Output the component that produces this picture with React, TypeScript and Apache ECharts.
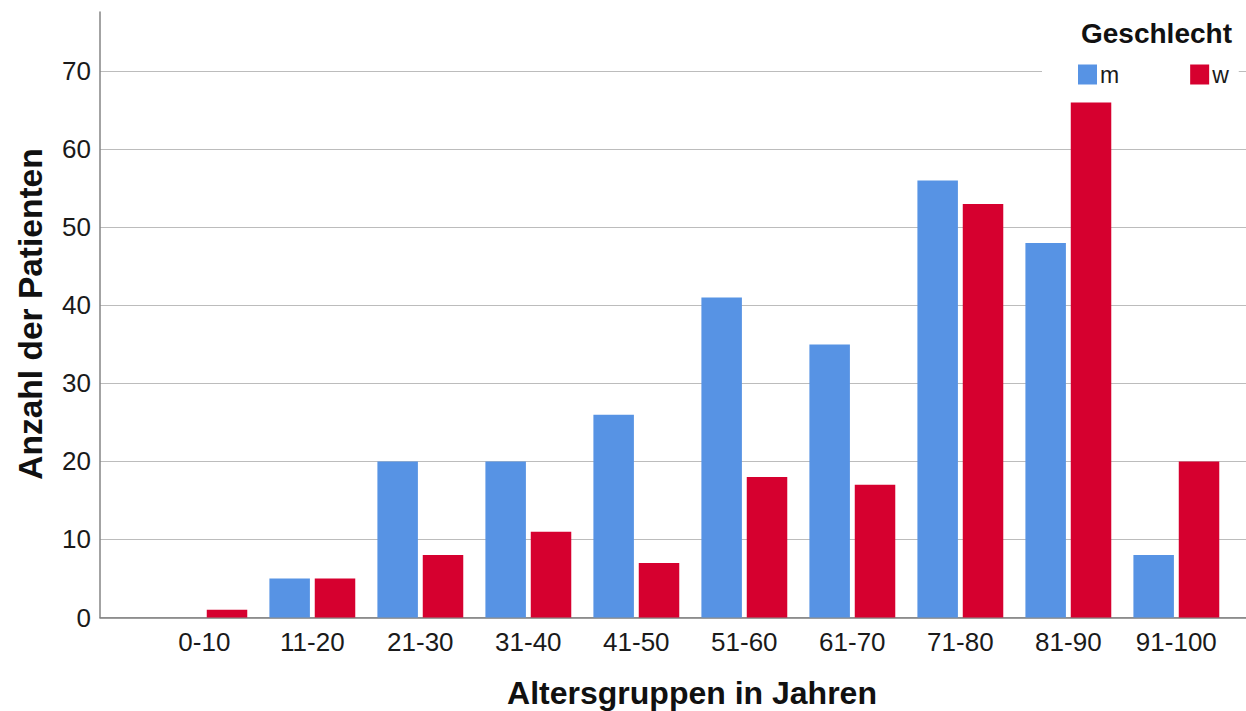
import React, { useEffect, useRef } from "react";
import * as echarts from "echarts";

const categories = ["0-10", "11-20", "21-30", "31-40", "41-50", "51-60", "61-70", "71-80", "81-90", "91-100"];
const maleValues = [0, 5, 20, 20, 26, 41, 35, 56, 48, 8];
const femaleValues = [1, 5, 8, 11, 7, 18, 17, 53, 66, 20];
const seriesNames = ["m", "w"];
const legendTitle = "Geschlecht";
const xTitle = "Altersgruppen in Jahren";
const yTitle = "Anzahl der Patienten";

const FONT = "'Liberation Sans', Arial, Helvetica, sans-serif";
const BLUE = "#5793e4";
const RED = "#d6002f";

export default function App() {
  const ref = useRef<HTMLDivElement>(null);
  useEffect(() => {
    if (!ref.current) return;
    const chart = echarts.init(ref.current, null, { renderer: "svg" });
    const idx = categories.map((_, i) => i);
    chart.setOption({
      animation: false,
      backgroundColor: "#ffffff",
      textStyle: { fontFamily: FONT },
      title: {
        text: legendTitle,
        left: 1081,
        top: 19,
        padding: 0,
        textStyle: { fontFamily: FONT, fontSize: 28, fontWeight: "bold", color: "#111" },
      },
      legend: {
        data: seriesNames,
        left: 1042,
        top: 54,
        padding: [9, 10, 8, 36],
        backgroundColor: "#ffffff",
        icon: "rect",
        itemWidth: 19,
        itemHeight: 20,
        itemGap: 71,
        textStyle: { fontFamily: FONT, fontSize: 23, color: "#1a1a1a", padding: [0, 0, 0, -2] },
      },
      grid: { left: 100, right: 0, top: 12, bottom: 93.5, containLabel: false },
      xAxis: {
        type: "value",
        min: -0.966,
        max: 9.645,
        splitLine: { show: false },
        axisTick: { show: false },
        axisLine: { show: true, onZero: false, lineStyle: { color: "#7d7d7d", width: 1.5 } },
        axisLabel: {
          customValues: idx,
          formatter: (v: number) => categories[Math.round(v)] ?? "",
          fontSize: 26,
          color: "#1a1a1a",
          fontFamily: FONT,
          margin: 11,
        },
      },
      yAxis: {
        type: "value",
        min: 0,
        max: 77.6,
        interval: 10,
        axisLine: { show: true, onZero: false, lineStyle: { color: "#858585", width: 1.5 } },
        axisTick: { show: false },
        axisLabel: {
          fontSize: 26,
          color: "#1a1a1a",
          fontFamily: FONT,
          margin: 9,
          showMaxLabel: false,
        },
        splitLine: { show: true, showMaxLine: false, lineStyle: { color: "#bcbcbc", width: 1.2 } },
      },
      series: [
        {
          name: seriesNames[0],
          type: "bar",
          barWidth: 40.5,
          barGap: "12%",
          itemStyle: { color: BLUE },
          data: maleValues.map((v, i) => [i, v]),
        },
        {
          name: seriesNames[1],
          type: "bar",
          barWidth: 40.5,
          barGap: "12%",
          itemStyle: { color: RED },
          data: femaleValues.map((v, i) => [i, v]),
        },
      ],
      graphic: [
        {
          type: "text",
          x: 692,
          y: 693,
          style: {
            text: xTitle,
            align: "center",
            verticalAlign: "middle",
            font: `bold 32px ${FONT}`,
            fill: "#111",
          },
        },
        {
          type: "text",
          x: 30,
          y: 314,
          rotation: Math.PI / 2,
          style: {
            text: yTitle,
            align: "center",
            verticalAlign: "middle",
            font: `bold 33.5px ${FONT}`,
            fill: "#111",
          },
        },
      ],
    });
    return () => chart.dispose();
  }, []);
  return (
    <div
      ref={ref}
      style={{ position: "fixed", left: 0, top: 0, width: 1246, height: 711, background: "#fff" }}
    />
  );
}
